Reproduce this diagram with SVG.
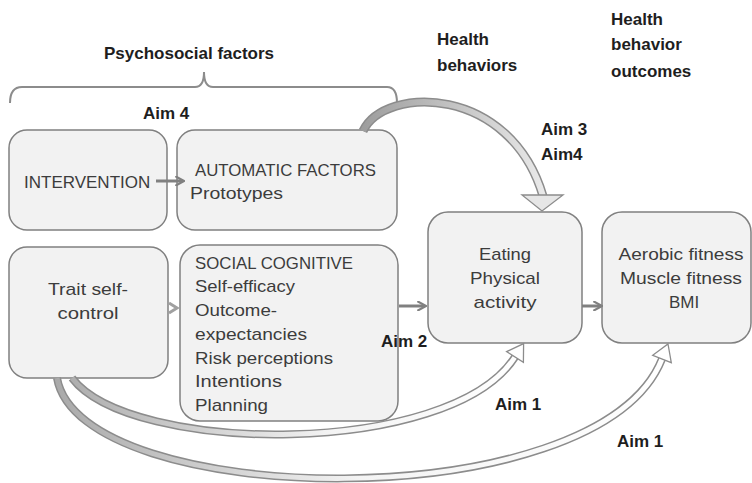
<svg xmlns="http://www.w3.org/2000/svg" width="752" height="483" viewBox="0 0 752 483">
<defs>
<style>
.box{fill:#f2f2f2;stroke:#808080;stroke-width:1.5}
.bt{font-family:"Liberation Sans",Arial,sans-serif;font-size:17px;fill:#3c3c3c}
.lb{font-family:"Liberation Sans",Arial,sans-serif;font-size:17px;font-weight:bold;fill:#1e1e1e}
.conn{stroke:#808080;stroke-width:3;fill:none}
.bandO{fill:none;stroke:#8c8c8c;stroke-width:9;stroke-linecap:butt}
.head{stroke:#8c8c8c;stroke-width:1.3;stroke-linejoin:miter}
</style>
<marker id="ah" viewBox="0 0 10 10" refX="8" refY="5" markerWidth="3.2" markerHeight="3.2" orient="auto" markerUnits="strokeWidth">
<path d="M0,0 L9,5 L0,10" fill="none" stroke="#808080" stroke-width="2.2"/>
</marker>
<linearGradient id="g1" gradientUnits="userSpaceOnUse" x1="355" y1="0" x2="560" y2="0">
<stop offset="0" stop-color="#9a9a9a"/><stop offset="1" stop-color="#f0f0f0"/>
</linearGradient>
<linearGradient id="g2" gradientUnits="userSpaceOnUse" x1="50" y1="0" x2="520" y2="0">
<stop offset="0" stop-color="#a8a8a8"/><stop offset="0.6" stop-color="#f4f4f4"/><stop offset="1" stop-color="#ffffff"/>
</linearGradient>
<linearGradient id="g3" gradientUnits="userSpaceOnUse" x1="50" y1="0" x2="670" y2="0">
<stop offset="0" stop-color="#a8a8a8"/><stop offset="0.5" stop-color="#f4f4f4"/><stop offset="1" stop-color="#ffffff"/>
</linearGradient>
</defs>
<rect width="752" height="483" fill="#ffffff"/>

<!-- headers -->
<g id="headers">
<text class="lb" x="104" y="59">Psychosocial factors</text>
<text class="lb" x="437" y="45">Health</text>
<text class="lb" x="437" y="71">behaviors</text>
<text class="lb" x="611" y="25">Health</text>
<text class="lb" x="611" y="50">behavior</text>
<text class="lb" x="611" y="77">outcomes</text>
<path d="M10,103 Q10,87 22,87 L195,87 Q204,87 204,72 Q204,87 213,87 L387,87 Q397,87 397,103" fill="none" stroke="#8c8c8c" stroke-width="2"/>
</g>

<!-- nodes -->
<g id="intervention">
<rect class="box" x="9" y="130" width="158" height="100" rx="18"/>
<text class="bt" x="24" y="188">INTERVENTION</text>
</g>
<g id="automatic">
<rect class="box" x="177" y="130" width="220" height="100" rx="18"/>
<text class="bt" x="195" y="176" textLength="181" lengthAdjust="spacingAndGlyphs">AUTOMATIC FACTORS</text>
<text class="bt" x="190" y="199" textLength="93" lengthAdjust="spacingAndGlyphs">Prototypes</text>
</g>
<g id="trait">
<rect class="box" x="9" y="247" width="159" height="131" rx="18"/>
<text class="bt" x="88" y="295" text-anchor="middle" textLength="80" lengthAdjust="spacingAndGlyphs">Trait self-</text>
<text class="bt" x="88" y="319" text-anchor="middle" textLength="61" lengthAdjust="spacingAndGlyphs">control</text>
</g>
<g id="social">
<rect class="box" x="180" y="245" width="218" height="176" rx="20"/>
<text class="bt" x="195" y="269" textLength="158" lengthAdjust="spacingAndGlyphs">SOCIAL COGNITIVE</text>
<text class="bt" x="195" y="292" textLength="100" lengthAdjust="spacingAndGlyphs">Self-efficacy</text>
<text class="bt" x="195" y="316" textLength="82" lengthAdjust="spacingAndGlyphs">Outcome-</text>
<text class="bt" x="195" y="340" textLength="112" lengthAdjust="spacingAndGlyphs">expectancies</text>
<text class="bt" x="195" y="364" textLength="138" lengthAdjust="spacingAndGlyphs">Risk perceptions</text>
<text class="bt" x="195" y="387" textLength="87" lengthAdjust="spacingAndGlyphs">Intentions</text>
<text class="bt" x="195" y="411" textLength="73" lengthAdjust="spacingAndGlyphs">Planning</text>
</g>
<g id="behaviors">
<rect class="box" x="428" y="212" width="154" height="131" rx="20"/>
<text class="bt" x="505" y="260" text-anchor="middle" textLength="52" lengthAdjust="spacingAndGlyphs">Eating</text>
<text class="bt" x="505" y="284" text-anchor="middle" textLength="70" lengthAdjust="spacingAndGlyphs">Physical</text>
<text class="bt" x="505" y="308" text-anchor="middle" textLength="63" lengthAdjust="spacingAndGlyphs">activity</text>
</g>
<g id="outcomes">
<rect class="box" x="602" y="212" width="149" height="131" rx="20"/>
<text class="bt" x="681" y="260" text-anchor="middle" textLength="125" lengthAdjust="spacingAndGlyphs">Aerobic fitness</text>
<text class="bt" x="681" y="284" text-anchor="middle" textLength="122" lengthAdjust="spacingAndGlyphs">Muscle fitness</text>
<text class="bt" x="684" y="308" text-anchor="middle">BMI</text>
</g>

<!-- connectors -->
<g id="connectors">
<line class="conn" x1="156" y1="181" x2="183" y2="181" marker-end="url(#ah)"/>
<path d="M169,303 L177,308 L169,313" fill="none" stroke="#a0a0a0" stroke-width="3"/>
<line class="conn" x1="399" y1="306" x2="425" y2="306" marker-end="url(#ah)"/>
<line class="conn" x1="582" y1="306" x2="601" y2="306" marker-end="url(#ah)"/>

<!-- Aim 3 / Aim 4 block arrow -->
<path class="bandO" d="M363,131 C385,85 510,85 543,196"/>
<path d="M363,131 C385,85 510,85 543,196" fill="none" stroke="url(#g1)" stroke-width="6"/>
<polygon class="head" points="522,195 563,195 542,211" fill="#e6e6e6"/>

<!-- Aim 1 inner -->
<path d="M72,378 C130,455 450,458 515,357" fill="none" stroke="#8c8c8c" stroke-width="8"/>
<path d="M72,378 C130,455 450,458 515,357" fill="none" stroke="url(#g2)" stroke-width="5"/>
<polygon class="head" points="523.6,343.6 523.4,362.4 506.6,351.6" fill="#ffffff"/>

<!-- Aim 1 outer -->
<path d="M57,378 C80,510 598,520 662,359" fill="none" stroke="#8c8c8c" stroke-width="8"/>
<path d="M57,378 C80,510 598,520 662,359" fill="none" stroke="url(#g3)" stroke-width="5"/>
<polygon class="head" points="668,344 671.3,362.7 652.7,355.3" fill="#ffffff"/>
</g>

<!-- aim labels -->
<g id="aims">
<text class="lb" x="143" y="119">Aim 4</text>
<text class="lb" x="541" y="135">Aim 3</text>
<text class="lb" x="541" y="160">Aim4</text>
<text class="lb" x="381" y="347">Aim 2</text>
<text class="lb" x="495" y="410">Aim 1</text>
<text class="lb" x="617" y="447">Aim 1</text>
</g>
</svg>
